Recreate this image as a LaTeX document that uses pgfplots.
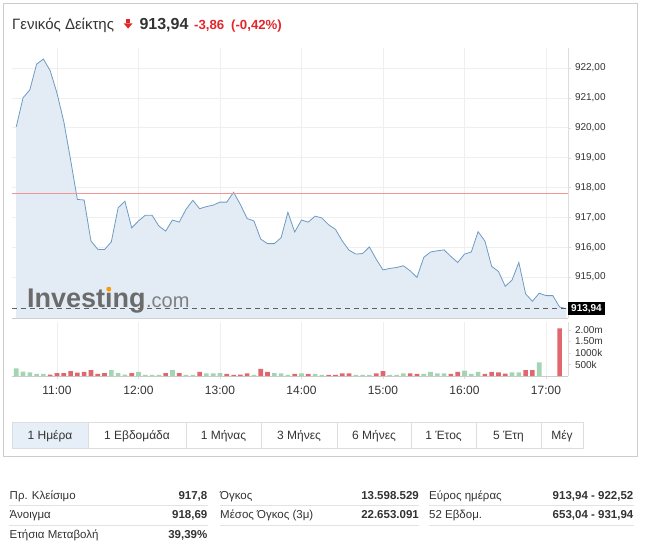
\documentclass[border=0pt]{standalone}
\usepackage{fontspec}
\setmainfont{Liberation Sans}
\usepackage{pgfplots}
\pgfplotsset{compat=1.18}
\definecolor{areafill}{HTML}{E3ECF5}
\definecolor{arealine}{HTML}{6D9BC3}
\definecolor{prevline}{RGB}{240,150,150}
\definecolor{gridc}{HTML}{EFEFEF}
\definecolor{txt}{HTML}{333333}
\definecolor{upgreen}{HTML}{A3D4B3}
\definecolor{downred}{HTML}{E0676E}
\definecolor{hdrred}{HTML}{E3262B}
\definecolor{framec}{HTML}{CCCCCC}
\definecolor{btnbg}{HTML}{E6EEF7}
\definecolor{btnline}{HTML}{DDDDDD}
\definecolor{sepc}{HTML}{E3E3E3}
\definecolor{dashc}{HTML}{5F5F5F}
\newcommand{\px}[1]{\fontsize{#1}{#1}\selectfont}
\begin{document}
\begin{tikzpicture}
\path[use as bounding box] (0,0) rectangle (652pt,-543pt);
\begin{scope}[x=1pt,y=-1pt]
\draw[framec] (3,3) -- (637,3) -- (637,456) -- (3,456) -- cycle;
% header
\node[anchor=base west,inner sep=0,text=txt,font=\px{15}] at (12,29.3) {Γενικός Δείκτης};
\fill[hdrred] (126,19) rectangle (130.2,23.5);
\fill[hdrred] (123.6,23.3) -- (132.6,23.3) -- (128.1,28.6) -- cycle;
\node[anchor=base west,inner sep=0,text=txt,font=\bfseries\px{16}] at (139.3,29.5) {913,94};
\node[anchor=base west,inner sep=0,text=hdrred,font=\bfseries\px{13.2}] at (194,29.3) {-3,86};
\node[anchor=base west,inner sep=0,text=hdrred,font=\bfseries\px{13.2}] at (231,29.3) {(-0,42\%)};
% buttons
\fill[btnbg] (12,422) rectangle (88,448);
\draw[btnline] (12,422) rectangle (583,448);
\foreach \b in {88,186,261,337,411,476,541} {\draw[btnline] (\b,422) -- (\b,448);}
\foreach \c/\t in {50/{1 Ημέρα},137/{1 Εβδομάδα},223.5/{1 Μήνας},299/{3 Μήνες},374/{6 Μήνες},443.5/{1 Έτος},508.5/{5 Έτη},562/{Μέγ}}
  {\node[anchor=base,inner sep=0,text=txt,font=\px{12}] at (\c,439.5) {\t};}
% table
\foreach \y in {505,525} {
  \draw[sepc] (9,\y) -- (208,\y);
  \draw[sepc] (220,\y) -- (419,\y);
  \draw[sepc] (429,\y) -- (634,\y);
}
\foreach \y/\la/\va in {499/{Πρ. Κλείσιμο}/{917,8},518.5/{Άνοιγμα}/{918,69},538/{Ετήσια Μεταβολή}/{39,39\%}} {
  \node[anchor=base west,inner sep=0,text=txt,font=\px{11.5}] at (9.5,\y) {\la};
  \node[anchor=base east,inner sep=0,text=txt,font=\bfseries\px{11.5}] at (207.5,\y) {\va};
}
\foreach \y/\la/\va in {499/{Όγκος}/{13.598.529},518.5/{Μέσος Όγκος (3μ)}/{22.653.091}} {
  \node[anchor=base west,inner sep=0,text=txt,font=\px{11.5}] at (220,\y) {\la};
  \node[anchor=base east,inner sep=0,text=txt,font=\bfseries\px{11.5}] at (419,\y) {\va};
}
\foreach \y/\la/\va in {499/{Εύρος ημέρας}/{913,94 - 922,52},518.5/{52 Εβδομ.}/{653,04 - 931,94}} {
  \node[anchor=base west,inner sep=0,text=txt,font=\px{11.5}] at (429,\y) {\la};
  \node[anchor=base east,inner sep=0,text=txt,font=\bfseries\px{11.5}] at (633.5,\y) {\va};
}
\end{scope}
% price panel
\begin{axis}[
  at={(12pt,-318pt)}, anchor=south west,
  width=556pt, height=270pt, scale only axis,
  xmin=10.448, xmax=17.27, ymin=913.63, ymax=922.67,
  axis x line*=bottom, axis y line*=right,
  axis line style={-},
  x axis line style={draw=framec},
  y axis line style={draw=btnline},
  xtick={11,12,...,17}, xticklabel=\empty,
  xtick style={draw=none},
  ytick={915,916,...,922},
  ytick style={draw=btnline},
  tick align=outside, major tick length=3pt,
  y tick label style={/pgf/number format/.cd, fixed, fixed zerofill, precision=2, use comma, assume math mode=true, /tikz/.cd, font=\px{10}, text=txt, xshift=0.5pt},
  grid=major, major grid style={gridc, line width=0.6pt},
  clip mode=individual,
]
\addplot[fill=areafill, draw=none] coordinates {
(10.5,913.63)
(10.5000,920.03) (10.5833,921.00) (10.6667,921.27) (10.7500,922.13) (10.8333,922.30)
(10.9167,921.91) (11.0000,921.16) (11.0833,920.21) (11.1667,918.93) (11.2500,917.60)
(11.3333,917.58) (11.4167,916.21) (11.5000,915.93) (11.5833,915.92) (11.6667,916.18)
(11.7500,917.32) (11.8333,917.54) (11.9167,916.65) (12.0000,916.88) (12.0833,917.07)
(12.1667,917.07) (12.2500,916.71) (12.3333,916.54) (12.4167,916.91) (12.5000,916.84)
(12.5833,917.27) (12.6667,917.57) (12.7500,917.29) (12.8333,917.36) (12.9167,917.41)
(13.0000,917.51) (13.0833,917.51) (13.1667,917.84) (13.2500,917.43) (13.3333,916.96)
(13.4167,916.88) (13.5000,916.27) (13.5833,916.12) (13.6667,916.12) (13.7500,916.32)
(13.8333,917.17) (13.9167,916.51) (14.0000,916.91) (14.0833,916.84) (14.1667,917.04)
(14.2500,916.98) (14.3333,916.75) (14.4167,916.60) (14.5000,916.21) (14.5833,915.90)
(14.6667,915.77) (14.7500,915.79) (14.8333,916.01) (14.9167,915.60) (15.0000,915.24)
(15.0833,915.29) (15.1667,915.32) (15.2500,915.38) (15.3333,915.21) (15.4167,914.99)
(15.5000,915.66) (15.5833,915.84) (15.6667,915.88) (15.7500,915.91) (15.8333,915.69)
(15.9167,915.49) (16.0000,915.77) (16.0833,915.84) (16.1667,916.52) (16.2500,916.21)
(16.3333,915.36) (16.4167,915.19) (16.5000,914.69) (16.5833,914.90) (16.6667,915.49)
(16.7500,914.44) (16.8333,914.19) (16.9167,914.46) (17.0000,914.38) (17.0833,914.38)
(17.1667,914.00) (17.2500,913.94)
(17.25,913.63)
} -- cycle;
\addplot[arealine, line width=0.8pt] coordinates {
(10.5000,920.03) (10.5833,921.00) (10.6667,921.27) (10.7500,922.13) (10.8333,922.30)
(10.9167,921.91) (11.0000,921.16) (11.0833,920.21) (11.1667,918.93) (11.2500,917.60)
(11.3333,917.58) (11.4167,916.21) (11.5000,915.93) (11.5833,915.92) (11.6667,916.18)
(11.7500,917.32) (11.8333,917.54) (11.9167,916.65) (12.0000,916.88) (12.0833,917.07)
(12.1667,917.07) (12.2500,916.71) (12.3333,916.54) (12.4167,916.91) (12.5000,916.84)
(12.5833,917.27) (12.6667,917.57) (12.7500,917.29) (12.8333,917.36) (12.9167,917.41)
(13.0000,917.51) (13.0833,917.51) (13.1667,917.84) (13.2500,917.43) (13.3333,916.96)
(13.4167,916.88) (13.5000,916.27) (13.5833,916.12) (13.6667,916.12) (13.7500,916.32)
(13.8333,917.17) (13.9167,916.51) (14.0000,916.91) (14.0833,916.84) (14.1667,917.04)
(14.2500,916.98) (14.3333,916.75) (14.4167,916.60) (14.5000,916.21) (14.5833,915.90)
(14.6667,915.77) (14.7500,915.79) (14.8333,916.01) (14.9167,915.60) (15.0000,915.24)
(15.0833,915.29) (15.1667,915.32) (15.2500,915.38) (15.3333,915.21) (15.4167,914.99)
(15.5000,915.66) (15.5833,915.84) (15.6667,915.88) (15.7500,915.91) (15.8333,915.69)
(15.9167,915.49) (16.0000,915.77) (16.0833,915.84) (16.1667,916.52) (16.2500,916.21)
(16.3333,915.36) (16.4167,915.19) (16.5000,914.69) (16.5833,914.90) (16.6667,915.49)
(16.7500,914.44) (16.8333,914.19) (16.9167,914.46) (17.0000,914.38) (17.0833,914.38)
(17.1667,914.00) (17.2500,913.94)
};
\addplot[draw=prevline, line width=1pt, mark=none] coordinates {(10.448,917.8) (17.27,917.8)};
\addplot[draw=dashc, line width=1.3pt, mark=none, dash pattern=on 5pt off 4pt] coordinates {(10.448,913.94) (17.27,913.94)};
\coordinate (lastp) at (axis cs:17.27,913.94);
\end{axis}
% volume panel
\begin{axis}[
  at={(12pt,-376pt)}, anchor=south west,
  width=556pt, height=54pt, scale only axis,
  xmin=10.448, xmax=17.27, ymin=0, ymax=2350,
  axis x line*=bottom, axis y line*=right,
  axis line style={-},
  x axis line style={draw=framec},
  y axis line style={draw=btnline},
  xtick={11,12,...,17},
  xticklabels={11:00,12:00,13:00,14:00,15:00,16:00,17:00},
  x tick label style={font=\px{12}, text=txt, yshift=-3.5pt},
  ytick={500,1000,1500,2000},
  yticklabels={500k,1000k,1.50m,2.00m},
  y tick label style={font=\px{10}, text=txt, xshift=0.5pt},
  tick style={draw=btnline},
  tick align=outside, major tick length=3pt,
  xmajorgrids, major grid style={gridc, line width=0.6pt},
  ybar, bar width=4.6pt,
]
\addplot[fill=upgreen, draw=none, bar shift=0pt] coordinates {
(10.5000,335) (10.5833,190) (10.6667,160) (10.7500,90) (10.8333,90)
(11.6667,260) (11.7500,130) (11.8333,65) (12.0000,175) (12.0833,45)
(12.1667,45) (12.2500,45) (12.4167,260) (12.5833,45) (12.6667,45)
(12.8333,110) (12.9167,110) (13.0000,130) (13.4167,45) (13.6667,130)
(13.7500,110) (13.8333,45) (14.0000,115) (14.1667,90) (14.2500,45)
(14.6667,45) (14.7500,45) (14.8333,45) (15.0833,45) (15.1667,45)
(15.2500,115) (15.5000,90) (15.5833,185) (15.6667,115) (15.7500,115)
(16.0000,230) (16.0833,90) (16.1667,185) (16.5833,160) (16.6667,160)
(16.9167,595)
};
\addplot[fill=downred, draw=none, bar shift=0pt] coordinates {
(10.9167,65) (11.0000,130) (11.0833,130) (11.1667,215) (11.2500,145)
(11.3333,175) (11.4167,260) (11.5000,90) (11.5833,130) (11.9167,130)
(12.3333,130) (12.5000,130) (12.7500,175) (13.0833,90) (13.1667,45)
(13.2500,65) (13.3333,110) (13.5000,305) (13.5833,175) (13.9167,90)
(14.0833,90) (14.3333,45) (14.4167,45) (14.5000,115) (14.5833,115)
(14.9167,115) (15.0000,215) (15.3333,115) (15.4167,90) (15.8333,90)
(15.9167,185) (16.2500,90) (16.3333,185) (16.4167,160) (16.5000,100)
(16.7500,260) (16.8333,260) (17.1667,2075)
};
\end{axis}
% watermark and last price label
\node[anchor=base west,inner sep=0,text=black!58,font=\bfseries\px{27}] (inv) at (27pt,-307pt) {Investing};
\node[anchor=base west,inner sep=0,text=black!50,font=\px{20}] at (inv.base east) {.com};
\fill[orange!80!yellow] ([xshift=81.8pt,yshift=17.8pt]inv.base west) circle (2.4pt);
\node[anchor=west,fill=black,text=white,font=\bfseries\px{10},inner xsep=3pt,inner ysep=2pt] at (lastp) {913,94};
\end{tikzpicture}
\end{document}
